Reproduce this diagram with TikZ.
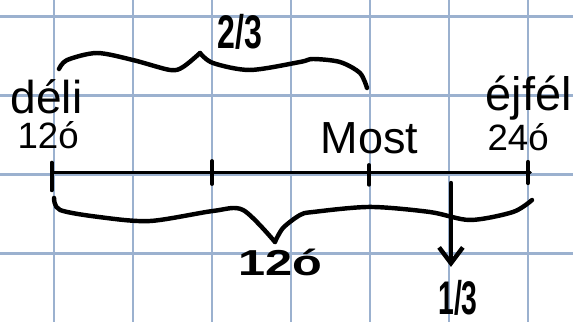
\documentclass[tikz,border=0pt]{standalone}
\usepackage{fontspec}
\setmainfont{Liberation Sans}
\usepackage{graphicx}
\usepackage{tkz-euclide}
\usetikzlibrary{arrows.meta}
\definecolor{GridClr}{RGB}{155,177,207}

\tikzset{
  handline/.style={line width=1.6pt,line cap=round,line join=round},
  tickline/.style={line width=1.4pt,line cap=round},
  printed/.style={inner sep=0pt,anchor=base west},
  scribble/.style={inner sep=1pt,font=\bfseries}
}

\begin{document}
\begin{tikzpicture}
\useasboundingbox (-0.684,-1.867) rectangle (6.570,2.209);
\draw[GridClr,line width=0.75pt] (-0.684,-1.867) grid (6.570,2.209);

\tkzDefPoints{-0.03/0.02/N,6.03/0.02/E}
\tkzDefPoints{-0.03/0.15/a,-0.03/-0.2/b,2/0.17/c,2/-0.12/d}
\tkzDefPoints{3.99/0.12/e,3.99/-0.13/f,6/0.16/g,6/-0.11/h}

\tkzDrawSegment[line width=1.1pt,color=black](N,E)
\tkzDrawSegments[tickline,color=black](a,b c,d e,f g,h)

% printed labels
\node[printed,font=\fontsize{16.6}{18}\selectfont] (noon) at (-0.557,0.778) {déli};
\node[printed,font=\fontsize{13.2}{15}\selectfont] (noonhr) at (-0.468,0.323) {12ó};
\node[printed,font=\fontsize{16.2}{18}\selectfont] (now) at (3.367,0.272) {Most};
\node[printed,font=\fontsize{16.9}{18}\selectfont] (midnight) at (5.456,0.816) {éjfél};
\node[printed,font=\fontsize{13.2}{15}\selectfont] (midnighthr) at (5.481,0.310) {24ó};

% braces
\draw[handline] plot[smooth] coordinates {(0.063,1.335) (0.165,1.449) (0.544,1.538) (1.0,1.449) (1.468,1.323) (1.633,1.361) (1.848,1.538)};
\draw[handline] plot[smooth] coordinates {(1.848,1.538) (2.013,1.411) (2.481,1.323) (3.114,1.424) (3.278,1.462) (3.620,1.424) (3.873,1.285) (3.962,1.095)};
\draw[handline] plot[smooth] coordinates {(0,-0.297) (0.076,-0.449) (0.582,-0.54) (1.215,-0.589) (2.013,-0.462) (2.392,-0.449) (2.797,-0.854)};
\draw[handline] plot[smooth] coordinates {(2.797,-0.854) (2.899,-0.677) (3.114,-0.513) (3.278,-0.475) (4.0,-0.411) (4.759,-0.475) (5.266,-0.576) (5.810,-0.475) (6.051,-0.323)};

% handwritten labels
\node[scribble] (twothirds) at (2.354,1.804) {\scalebox{0.68}[1]{\fontsize{17}{17}\selectfont 2/3}};
\node[scribble] (twelve) at (2.861,-1.108) {\scalebox{1.35}[1]{\fontsize{13}{13}\selectfont 12ó}};
\node[scribble,anchor=north] (third) at (5.114,-1.30) {\scalebox{0.6}[1]{\fontsize{17}{17}\selectfont 1/3}};

\coordinate (drop) at (5.025,-0.108);
\draw[handline,-{Straight Barb[length=0.2cm,width=0.3cm]},shorten >=0.13cm] (drop) -- (drop |- third.north);

\end{tikzpicture}
\end{document}
